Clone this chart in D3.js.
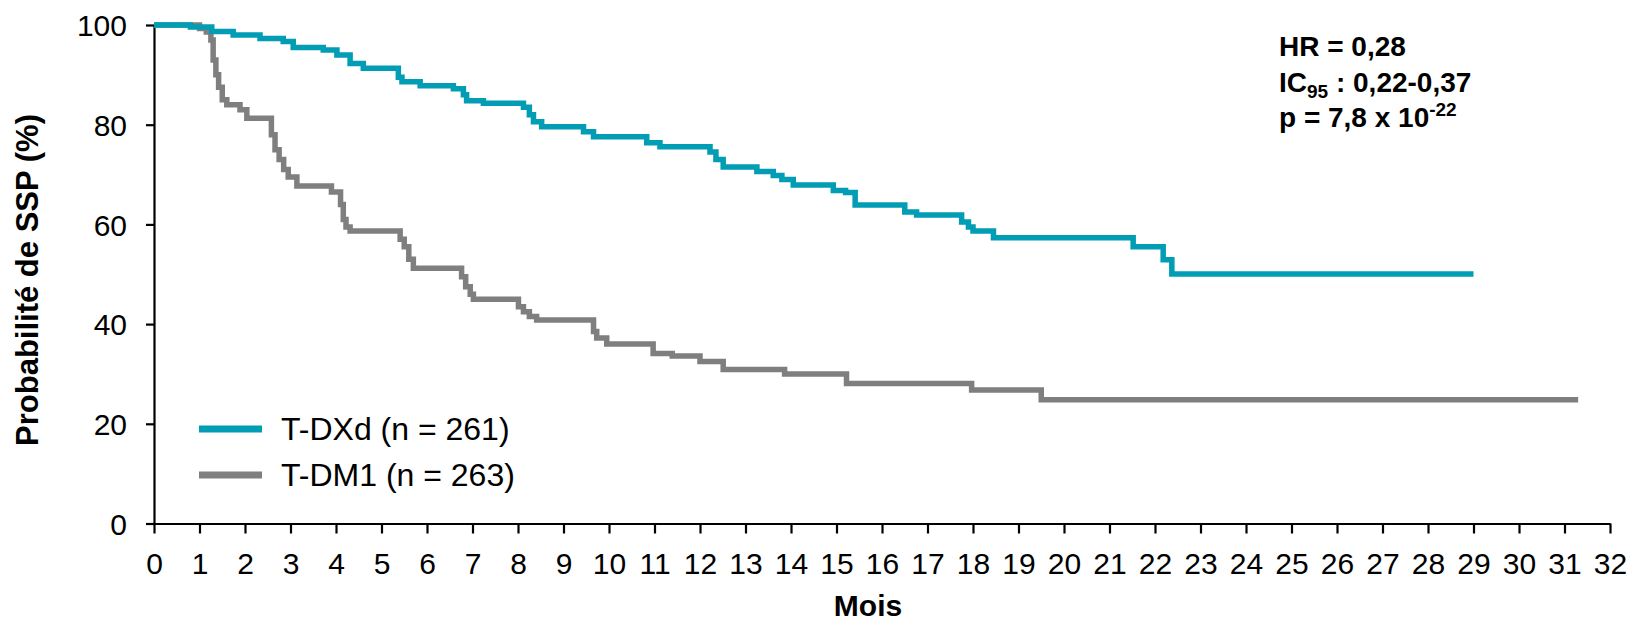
<!DOCTYPE html>
<html>
<head>
<meta charset="utf-8">
<script src="https://cdn.jsdelivr.net/npm/d3@7"></script>
<style>
  body { margin: 0; background: #fff; }
  svg { display: block; font-family: "Liberation Sans", Arial, sans-serif; }
</style>
</head>
<body>
<svg id="chart" width="1634" height="625"></svg>
<script>
// Kaplan-Meier steps: [mois, probabilité %]
const tdxd = [
	[0, 100], [0.8, 99.6], [1.27, 98.7], [1.74, 98], [2.33, 97.3], [2.84, 96.7],
	[3.06, 95.5], [3.72, 95], [4.02, 94], [4.31, 92.3], [4.6, 91.3], [5.37, 89.5],
	[5.45, 88.6], [5.85, 87.8], [6.58, 87.2], [6.8, 86], [6.87, 84.8], [7.24, 84.3],
	[8.12, 83.5], [8.25, 82], [8.34, 80.6], [8.52, 79.6], [9.44, 78.6], [9.66, 77.6],
	[10.83, 76.4], [11.12, 75.6], [12.22, 74.5], [12.35, 73], [12.51, 71.5], [13.25, 70.6],
	[13.61, 69.8], [13.8, 69], [14.05, 67.9], [14.93, 66.8], [15.2, 66.4], [15.41, 63.9],
	[16.5, 62.5], [16.76, 61.9], [17.75, 60.5], [17.9, 59.5], [18.0, 58.7], [18.45, 57.3],
	[21.52, 55.5], [22.18, 52.9], [22.37, 50.05], [29, 50.05]
];
const tdm1 = [
	[0, 100], [1.0, 99.3], [1.15, 98.6], [1.25, 97], [1.3, 93], [1.36, 90], [1.42, 87.5],
	[1.5, 85], [1.6, 84], [1.89, 83], [2.04, 81.3], [2.58, 78], [2.66, 75], [2.75, 73],
	[2.85, 71], [2.95, 69.5], [3.14, 67.7], [3.9, 66.5], [4.1, 64], [4.16, 61], [4.22, 59.5],
	[4.31, 58.7], [5.41, 57], [5.5, 55.5], [5.6, 53], [5.7, 51.2], [6.76, 49.5], [6.85, 47.5],
	[6.95, 46], [7.02, 45], [8.01, 43.5], [8.12, 42.5], [8.25, 41.5], [8.41, 40.8],
	[9.66, 38.5], [9.73, 37.2], [9.95, 36.0], [10.97, 34.1], [11.39, 33.6], [12.0, 32.5],
	[12.51, 30.9], [13.86, 30.0], [15.22, 28.1], [17.97, 26.8], [19.5, 24.8], [31.3, 24.8]
];
const seriesNames = ['T-DXd (n = 261)', 'T-DM1 (n = 263)'];
const seriesColors = ['#009db4', '#7f7f7f'];
const xTicks = d3.range(0, 33);
const yTicks = [0, 20, 40, 60, 80, 100];

const svg = d3.select('#chart');
const x = d3.scaleLinear().domain([0, 32]).range([154, 1610]);
const y = d3.scaleLinear().domain([0, 100]).range([523.5, 25]);

// axes
const gx = svg.append('g')
	.attr('transform', `translate(0,${y(0)})`)
	.call(d3.axisBottom(x).tickValues(xTicks).tickSize(10).tickSizeOuter(0).tickPadding(19));
const gy = svg.append('g')
	.attr('transform', `translate(${x(0)},0)`)
	.call(d3.axisLeft(y).tickValues(yTicks).tickSize(8).tickSizeOuter(0).tickPadding(19));

[gx, gy].forEach(g => {
	g.select('.domain').attr('stroke', '#000').attr('stroke-width', 2.2);
	g.selectAll('.tick line').attr('stroke', '#000').attr('stroke-width', 2.2);
	g.selectAll('.tick text')
		.attr('fill', '#000')
		.style('font-size', '30px')
		.style('font-family', '"Liberation Sans", Arial, sans-serif');
});
gy.selectAll('.tick text').attr('dy', '0.36em');

// curves
const line = d3.line()
	.x(d => x(d[0]))
	.y(d => y(d[1]))
	.curve(d3.curveStepAfter);

[tdm1, tdxd].forEach((data, i) => {
	svg.append('path')
		.datum(data)
		.attr('fill', 'none')
		.attr('stroke', i == 0 ? seriesColors[1] : seriesColors[0])
		.attr('stroke-width', 5.5)
		.attr('d', line);
});

// legend
const legend = svg.append('g').attr('transform', 'translate(199,429)');
seriesNames.forEach((name, i) => {
	const row = legend.append('g').attr('transform', `translate(0,${i * 46})`);
	row.append('line')
		.attr('x1', 0).attr('x2', 63)
		.attr('stroke', seriesColors[i])
		.attr('stroke-width', 7);
	row.append('text')
		.attr('x', 82).attr('y', 11)
		.style('font-size', '32px')
		.text(name);
});

// axis titles
svg.append('text')
	.attr('x', 868).attr('y', 616)
	.attr('text-anchor', 'middle')
	.style('font-size', '30px').style('font-weight', 'bold')
	.text('Mois');
svg.append('text')
	.attr('transform', 'translate(38,280) rotate(-90)')
	.attr('text-anchor', 'middle')
	.style('font-size', '31px').style('font-weight', 'bold')
	.text('Probabilité de SSP (%)');

// stats box
const stats = svg.append('g')
	.attr('transform', 'translate(1279,0)')
	.style('font-size', '28px').style('font-weight', 'bold');
stats.append('text').attr('y', 56).text('HR = 0,28');
const ic = stats.append('text').attr('y', 92);
ic.append('tspan').text('IC');
ic.append('tspan').attr('dy', 6).style('font-size', '19px').text('95');
ic.append('tspan').attr('dy', -6).text(' : 0,22-0,37');
const pv = stats.append('text').attr('y', 127);
pv.append('tspan').text('p = 7,8 x 10');
pv.append('tspan').attr('dy', -11).style('font-size', '19px').text('-22');
</script>
</body>
</html>
